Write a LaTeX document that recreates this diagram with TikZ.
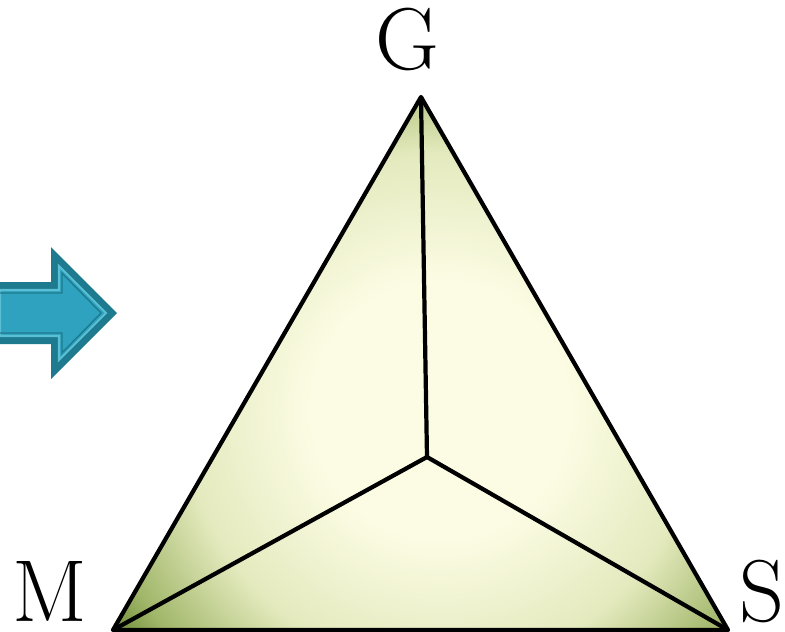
\documentclass[tikz,border=0pt]{standalone}
\usepackage{xcolor}
\usepackage{tikz}
\usetikzlibrary{arrows.meta, calc, backgrounds, positioning}

\definecolor{arrowdark}{RGB}{30,122,142}
\definecolor{arrowfill}{RGB}{46,162,190}
\definecolor{arrowline}{RGB}{90,190,212}
\definecolor{facelight}{RGB}{252,252,228}
\definecolor{facemid}{RGB}{228,234,190}
\definecolor{faceedge}{RGB}{160,182,105}
\definecolor{facedark}{RGB}{105,135,50}

\pgfdeclareradialshading{facegrad}{\pgfpoint{0bp}{0bp}}{%
  color(0bp)=(facelight); color(8bp)=(facelight); color(16bp)=(facemid);
  color(22bp)=(faceedge); color(25bp)=(facedark); color(50bp)=(facedark)}

\tikzset{
  corner/.style={font=\fontsize{50}{60}\selectfont, anchor=base, inner sep=0pt, text depth=0pt},
  edge/.style={line width=2.4pt, black, line join=round}
}

\begin{document}
\begin{tikzpicture}[x=0.02cm, y=-0.02cm]
    \useasboundingbox (0,0) rectangle (785,632);

    % vertices
    \coordinate (top) at (421,97);
    \coordinate (left) at (113,630);
    \coordinate (right) at (728,630);
    \coordinate (mid) at (427,457);

    % faces
    \begin{scope}
        \clip (top) -- (left) -- (right) -- cycle;
        \shade[shading=facegrad] (440,410) circle (400);
    \end{scope}

    % edges
    \draw[edge] (top) -- (left) -- (right) -- cycle;
    \draw[edge] (mid) -- (top);
    \draw[edge] (mid) -- (left);
    \draw[edge] (mid) -- (right);

    % labels
    \node[corner] (G) at (407,70) {G};
    \node[corner] (M) at (50,621) {M};
    \node[corner] (S) at (762,621) {S};

    % arrow
    \fill[arrowdark] (0,282) -- (51,282) -- (51,247) -- (117,313) -- (51,379) -- (51,344) -- (0,344) -- cycle;
    \filldraw[fill=arrowfill, draw=arrowline, line width=1.2pt]
        (0,290) -- (59,290) -- (59,266) -- (106,313) -- (59,360) -- (59,336) -- (0,336) -- cycle;
    \draw[arrowdark, line width=0.8pt]
        (0,293) -- (62,293) -- (62,273) -- (101,313) -- (62,353) -- (62,333) -- (0,333);
\end{tikzpicture}
\end{document}
